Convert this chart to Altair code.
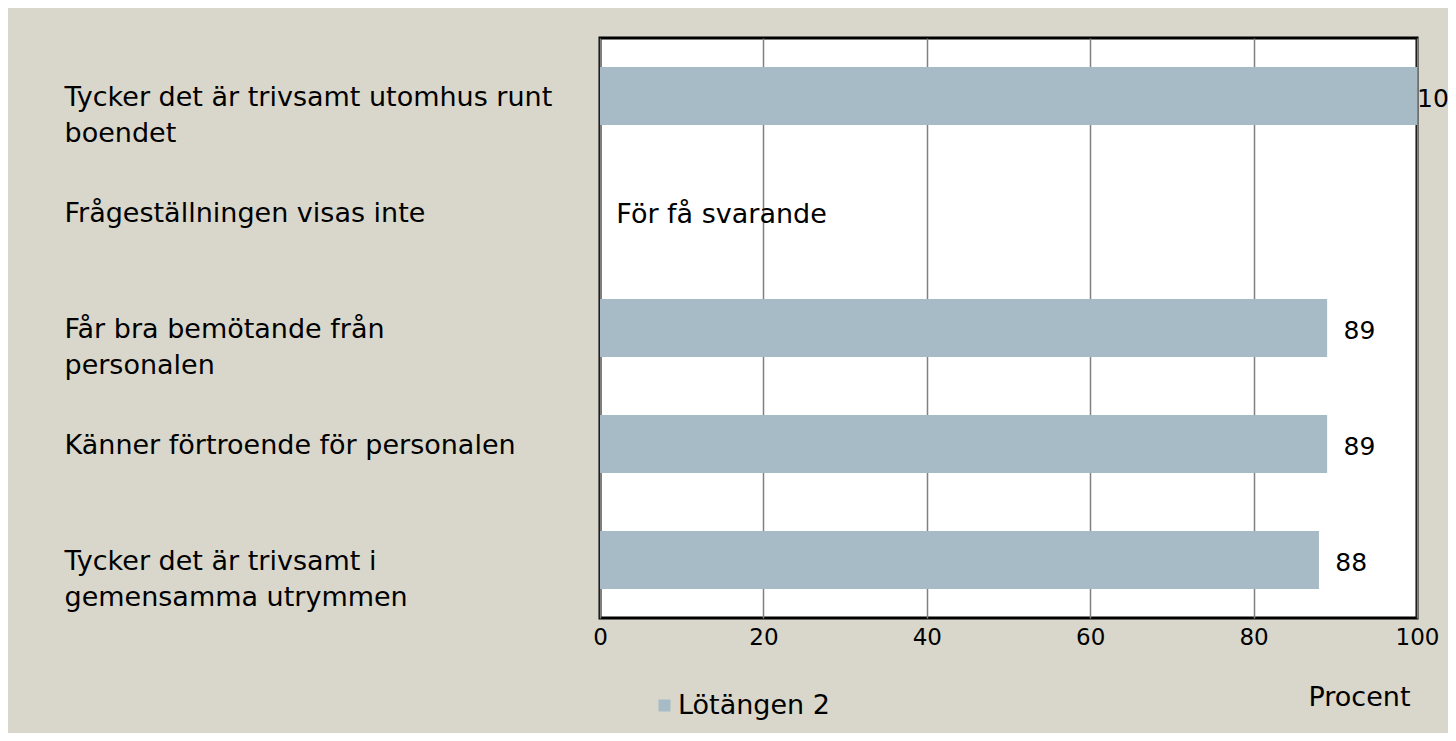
import altair as alt
import pandas as pd

categories = [
    "Tycker det är trivsamt utomhus runt\nboendet",
    "Frågeställningen visas inte",
    "Får bra bemötande från\npersonalen",
    "Känner förtroende för personalen",
    "Tycker det är trivsamt i\ngemensamma utrymmen",
]
values = [100, None, 89, 89, 88]
notes = ["", "För få svarande", "", "", ""]
series = ["Lötängen 2"] * 5
tick_values = [0, 20, 40, 60, 80, 100]

FONT = "DejaVu Sans"
FS = 27
FS_NUM = 23
BAR = "#a7bbc7"
BG = "#d9d7cb"

df = pd.DataFrame({"category": categories, "value": values, "note": notes, "series": series})

yenc = alt.Y(
    "category:N",
    sort=categories,
    scale=alt.Scale(domain=categories, paddingInner=0.5, paddingOuter=0.25),
    axis=alt.Axis(
        title=None, orient="left", ticks=False, tickSize=0, domain=False,
        labelAlign="left", labelPadding=536, labelBaseline="top", labelOffset=-11,
        labelExpr="split(datum.label, '\\n')", labelLineHeight=36,
        labelFont=FONT, labelFontSize=FS, labelColor="#000000", labelLimit=600,
    ),
)

xscale = alt.Scale(domain=[0, 100], nice=False, zero=True)

bars = alt.Chart(df).mark_bar(size=58).encode(
    x=alt.X(
        "value:Q", scale=xscale,
        axis=alt.Axis(
            values=tick_values, title="Procent", ticks=False, domain=False,
            grid=True, gridColor="#808080", gridWidth=1.5,
            labelPadding=8, labelFont=FONT, labelFontSize=FS_NUM, labelColor="#000000",
            labelBaseline="top", labelFlush=False,
            titleFont=FONT, titleFontSize=FS, titleFontWeight="normal", titleColor="#000000",
            titleX=759, titleY=79, titleAlign="center", titleBaseline="middle",
        ),
    ),
    y=yenc,
    color=alt.Color(
        "series:N",
        scale=alt.Scale(range=[BAR]),
        legend=alt.Legend(
            title=None, orient="none", legendX=51, legendY=654,
            symbolType="square", symbolSize=144, symbolStrokeWidth=0, labelOffset=0,
            labelFont=FONT, labelFontSize=FS, labelColor="#000000", padding=0,
        ),
    ),
)

labels = alt.Chart(df).transform_calculate(
    txt="isValid(datum.value) ? format(datum.value, 'd') : datum.note",
    lx="min((isValid(datum.value) ? datum.value : 0) + 2, 100)",
    fs="isValid(datum.value) ? 25 : 27",
).mark_text(align="left", baseline="middle", font=FONT, color="#000000", dy=3).encode(
    x=alt.X("lx:Q", scale=xscale),
    y=yenc,
    text="txt:N",
    size=alt.Size("fs:Q", scale=None, legend=None),
)

chart = (
    alt.layer(bars, labels)
    .properties(
        width=817, height=580, background=BG,
        autosize=alt.AutoSizeParams(type="none"),
        padding={"left": 592, "top": 30, "right": 31, "bottom": 115},
    )
    .configure_view(stroke="#000000", strokeWidth=3, fill="#ffffff")
)

chart.save("out.html", embed_options={"renderer": "svg", "actions": False})
